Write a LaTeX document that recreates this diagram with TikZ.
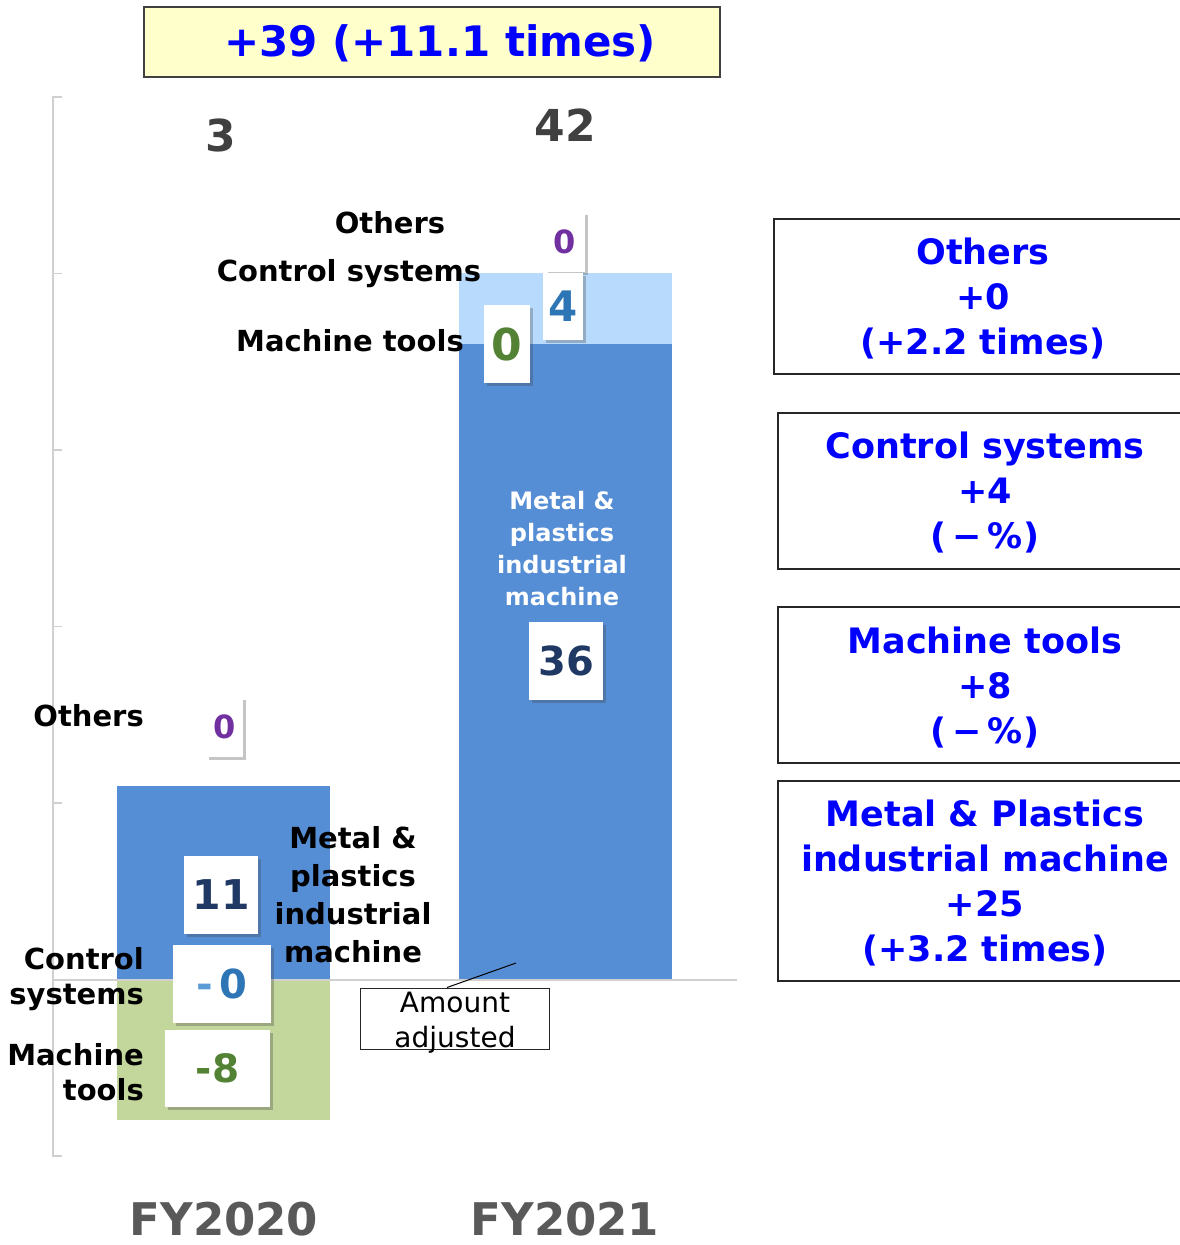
\documentclass[tikz,border=0pt]{standalone}
\usepackage{fontspec}
\setmainfont{DejaVu Sans}
\usetikzlibrary{shadows}

\definecolor{barblue}{HTML}{558ED5}
\definecolor{barlight}{HTML}{B8DBFD}
\definecolor{bargreen}{HTML}{C3D69B}
\definecolor{axisgray}{HTML}{D0D0D0}
\definecolor{numpurple}{HTML}{7030A0}
\definecolor{numnavy}{HTML}{1F3864}
\definecolor{numblue}{HTML}{2E75B6}
\definecolor{numlight}{HTML}{5B9BD5}
\definecolor{numgreen}{HTML}{548235}
\definecolor{totgray}{HTML}{404040}
\definecolor{fygray}{HTML}{595959}
\definecolor{notebg}{HTML}{FFFFCC}
\definecolor{noteblue}{HTML}{0000FF}

\tikzset{
  numbox/.style={fill=white, inner sep=0pt, font=\bfseries\fontsize{#1}{#1}\selectfont,
    drop shadow={shadow xshift=3pt, shadow yshift=-3pt, opacity=.3, fill=black!75}},
  seglabel/.style={font=\bfseries\fontsize{29}{35}\selectfont, inner sep=0pt},
  deltatext/.style={text=noteblue, font=\bfseries\fontsize{35}{45}\selectfont, align=center, inner sep=0pt},
  deltaframe/.style={line width=1.3pt, draw=black!85},
  yearlabel/.style={text=fygray, font=\bfseries\fontsize{45}{45}\selectfont, inner sep=0pt, text depth=0pt, anchor=base}
}

\begin{document}
\begin{tikzpicture}[x=1pt, y=-1pt]
        \useasboundingbox (0,0) rectangle (1180,1245);

        % bars
        \fill[barblue] (117,786) rectangle (330,980);
        \fill[bargreen] (117,980) rectangle (330,1120);
        \fill[barblue] (459,344) rectangle (672,980);
        \fill[barlight] (459,273) rectangle (672,344);

        % axis
        \draw[axisgray, line width=1.5pt] (62,97) -- (53,97) -- (53,1156) -- (62,1156);
        \foreach \ty in {273.5, 450, 626.5, 803}
            \draw[axisgray, line width=1.5pt] (53,\ty) -- (62,\ty);
        \draw[axisgray, line width=1.5pt] (53,980) -- (737,980);

        % total change
        \node[draw=black!75, line width=1.2pt, fill=notebg, minimum width=576pt, minimum height=70pt] (total) at (432,42) {};
        \node[text=noteblue, font=\bfseries\fontsize{42}{42}\selectfont, inner sep=0pt] (totaltext) at (440,43) {+39 (+11.1 times)};
        \node[text=totgray, font=\bfseries\fontsize{44}{44}\selectfont] (sum20) at (221,135) {3};
        \node[text=totgray, font=\bfseries\fontsize{44}{44}\selectfont] (sum21) at (565,125) {42};

        % segment labels FY2020
        \node[seglabel, anchor=east] (oth20) at (144,716) {Others};
        \node[seglabel, anchor=east, align=right] (ctl20) at (144,979) {Control\\systems};
        \node[seglabel, anchor=east, align=right] (mch20) at (144,1072) {Machine\\tools};
        \node[font=\bfseries\fontsize{29}{38}\selectfont, align=center, inner sep=0pt] (met20) at (353,895)
            {Metal \&\\plastics\\industrial\\machine};

        % segment labels FY2021
        \node[seglabel] (oth21) at (390,223) {Others};
        \node[seglabel] (ctl21) at (349,274) {Control systems};
        \node[seglabel] (mch21) at (350,341) {Machine tools};
        \node[text=white, font=\bfseries\fontsize{24}{32}\selectfont, align=center, inner sep=0pt] (met21) at (562,549)
            {Metal \&\\plastics\\industrial\\machine};

        % value boxes FY2020
        \node[numbox=32, text=numpurple, minimum width=37pt, minimum height=60pt] (v20oth) at (224.5,727) {0};
        \node[numbox=41, text=numnavy, minimum width=74pt, minimum height=78pt] (v20met) at (221,895) {11};
        \node[numbox=40, text=numblue, minimum width=98pt, minimum height=78pt] (v20ctl) at (222,984)
            {\textcolor{numlight}{-}\,0};
        \node[numbox=39, text=numgreen, minimum width=105pt, minimum height=77pt] (v20mch) at (217.5,1068.5) {-8};

        % value boxes FY2021
        \node[numbox=32, text=numpurple, minimum width=40pt, minimum height=60pt] (v21oth) at (565,242) {0};
        \node[numbox=42, text=numblue, minimum width=40pt, minimum height=67pt] (v21ctl) at (563,306.5) {4};
        \node[numbox=44, text=numgreen, minimum width=46pt, minimum height=78pt] (v21mch) at (507,344) {0};
        \node[numbox=40, text=numnavy, minimum width=74pt, minimum height=78pt] (v21met) at (566,661) {36};

        % amount adjusted
        \node[draw=black!85, line width=1pt, minimum width=189pt, minimum height=61pt, inner sep=0pt] (adjbox) at (454.5,1018.5) {};
        \node[font=\fontsize{28}{35}\selectfont, align=center, inner sep=0pt] (adjtext) at (455,1023) {Amount\\adjusted};
        \coordinate (adjtip) at (516,963);
        \draw[line width=1pt] ([xshift=-7.5pt]adjbox.north) -- (adjtip);

        % fiscal years
        \node[yearlabel] (fy20) at (224,1235) {FY2020};
        \node[yearlabel] (fy21) at (565,1235) {FY2021};

        % changes by segment
        \draw[deltaframe] (1180,219) -- (774,219) -- (774,374) -- (1180,374);
        \node[deltatext] (dOth) at (983,298.5) {Others\\+0\\(+2.2 times)};
        \draw[deltaframe] (1180,413) -- (778,413) -- (778,569) -- (1180,569);
        \node[deltatext] (dCtl) at (985,493) {Control systems\\+4\\(\,−\,\%)};
        \draw[deltaframe] (1180,607) -- (778,607) -- (778,763) -- (1180,763);
        \node[deltatext] (dMch) at (985,688) {Machine tools\\+8\\(\,−\,\%)};
        \draw[deltaframe] (1180,781) -- (778,781) -- (778,981) -- (1180,981);
        \node[deltatext] (dMet) at (985,883) {Metal \& Plastics\\industrial machine\\+25\\(+3.2 times)};
    \end{tikzpicture}
\end{document}
